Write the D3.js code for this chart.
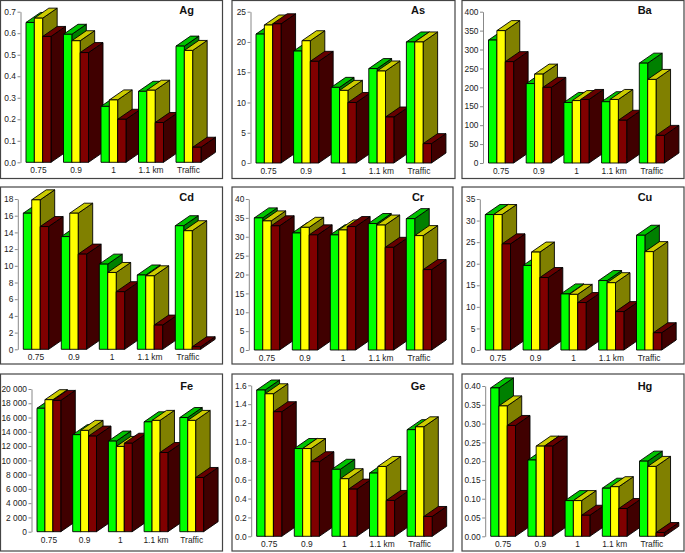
<!DOCTYPE html>
<html>
<head>
<meta charset="utf-8">
<script src="https://cdn.jsdelivr.net/npm/d3@7"></script>
<style>
  body { margin: 0; background: #fff; }
  svg { display: block; }
  text { font-family: "Liberation Sans", Arial, sans-serif; fill: #222; }
  .axis text { font-size: 8.4px; }
  .axis-y path, .axis-y line { stroke: #888; }
  .axis-x path { display: none; }
  .title { font-size: 11px; font-weight: bold; fill: #111; text-anchor: middle; }
</style>
</head>
<body>
<svg width="685" height="553"></svg>
<script>
var categories = ["0.75", "0.9", "1", "1.1 km", "Traffic"];
var series = ["green", "yellow", "red"];

// values per category: green, yellow, red
var Ag = [[0.65, 0.67, 0.585], [0.595, 0.565, 0.51], [0.26, 0.29, 0.20], [0.33, 0.335, 0.185], [0.54, 0.52, 0.07]];
var As = [[21.3, 22.8, 23], [18.5, 20.2, 16.8], [12.5, 12, 10], [15.6, 15.2, 7.6], [20, 20, 3.2]];
var Ba = [[325, 350, 268], [210, 235, 200], [160, 165, 168], [162, 168, 113], [264, 221, 73]];
var Cd = [[16.3, 17.9, 14.7], [13.5, 16.3, 11.4], [10.2, 9.2, 6.9], [8.9, 8.8, 2.9], [14.8, 14.2, 0.3]];
var Cr = [[35, 34.2, 32.9], [31, 32.5, 30.5], [30.5, 31.8, 32.7], [33.5, 33.1, 27.2], [34.8, 30.3, 21.3]];
var Cu = [[31.4, 31.4, 24.6], [19.6, 22.7, 16.8], [13, 12.9, 11], [16.1, 15.6, 8.9], [26.6, 22.8, 4]];
var Fe = [[17300, 18500, 18400], [13600, 14200, 13400], [12700, 11950, 12400], [15400, 15600, 11100], [16000, 15600, 7600]];
var Ge = [[1.55, 1.51, 1.32], [0.93, 0.93, 0.79], [0.71, 0.61, 0.5], [0.67, 0.74, 0.38], [1.13, 1.16, 0.21]];
var Hg = [[0.395, 0.347, 0.295], [0.203, 0.24, 0.24], [0.095, 0.095, 0.056], [0.128, 0.132, 0.074], [0.2, 0.186, 0.01]];

var AgTicks = ["0.0", "0.1", "0.2", "0.3", "0.4", "0.5", "0.6", "0.7"];
var AsTicks = ["0", "5", "10", "15", "20", "25"];
var BaTicks = ["0", "50", "100", "150", "200", "250", "300", "350", "400"];
var CdTicks = ["0", "2", "4", "6", "8", "10", "12", "14", "16", "18"];
var CrTicks = ["0", "5", "10", "15", "20", "25", "30", "35", "40"];
var CuTicks = ["0", "5", "10", "15", "20", "25", "30", "35"];
var FeTicks = ["0", "2 000", "4 000", "6 000", "8 000", "10 000", "12 000", "14 000", "16 000", "18 000", "20 000"];
var GeTicks = ["0.0", "0.2", "0.4", "0.6", "0.8", "1.0", "1.2", "1.4", "1.6"];
var HgTicks = ["0.00", "0.05", "0.10", "0.15", "0.20", "0.25", "0.30", "0.35", "0.40"];

// front, top and side colour of each series
var faces = {
  green: ["#00ff00", "#00c400", "#008000"],
  yellow: ["#ffff00", "#cccc00", "#808000"],
  red: ["#800000", "#660000", "#400000"]
};

var depthX = 14.5, depthY = 10;

var panels = [
  {name: "Ag", values: Ag, ticks: AgTicks, frame: [0.5, 0.5, 222, 178], left: 26, step: 37.5, y0: 162.3, y1: 11.7, titleX: 186.7, titleY: 10},
  {name: "As", values: As, ticks: AsTicks, frame: [232, 0.5, 223, 178], left: 256, step: 37.6, y0: 163, y1: 11.7, titleX: 418, titleY: 10},
  {name: "Ba", values: Ba, ticks: BaTicks, frame: [462, 0.5, 222, 178], left: 488.5, step: 37.7, y0: 163, y1: 11.7, titleX: 644.7, titleY: 10},
  {name: "Cd", values: Cd, ticks: CdTicks, frame: [0.5, 187, 222, 177], left: 23.3, step: 38, y0: 349.3, y1: 199, titleX: 186.7, titleY: 197},
  {name: "Cr", values: Cr, ticks: CrTicks, frame: [232, 187, 221, 177], left: 254.3, step: 38, y0: 350, y1: 199, titleX: 418, titleY: 197},
  {name: "Cu", values: Cu, ticks: CuTicks, frame: [462, 187, 222, 177], left: 485.3, step: 37.8, y0: 350, y1: 199, titleX: 645, titleY: 197},
  {name: "Fe", values: Fe, ticks: FeTicks, frame: [0.5, 374, 222, 177], left: 37, step: 35.7, y0: 531.7, y1: 389, titleX: 186.7, titleY: 386},
  {name: "Ge", values: Ge, ticks: GeTicks, frame: [232, 374, 221, 177], left: 256.7, step: 37.6, y0: 536.3, y1: 385.3, titleX: 418, titleY: 386},
  {name: "Hg", values: Hg, ticks: HgTicks, frame: [462, 374, 222, 177], left: 490.7, step: 37.2, y0: 536.3, y1: 386, titleX: 645, titleY: 386}
];

var svg = d3.select("svg");

panels.forEach(function (p) {
  var g = svg.append("g");

  g.append("rect")
    .attr("x", p.frame[0]).attr("y", p.frame[1])
    .attr("width", p.frame[2]).attr("height", p.frame[3])
    .style("fill", "white").style("stroke", "#444").style("stroke-width", 1.2);

  var tickNums = p.ticks.map(function (t) { return +t.replace(" ", ""); });

  var y = d3.scaleLinear()
    .domain([0, tickNums[tickNums.length - 1]])
    .range([p.y0, p.y1]);

  // groups are 2/3 of a step wide
  var x = d3.scaleBand()
    .domain(categories)
    .range([p.left, p.left + p.step * 4 + p.step * 2 / 3])
    .paddingInner(1 / 3)
    .paddingOuter(0);

  var xBar = d3.scaleBand().domain(series).range([0, x.bandwidth()]);

  var yAxis = d3.axisLeft(y)
    .tickValues(tickNums)
    .tickSize(3)
    .tickSizeOuter(0)
    .tickPadding(1.5)
    .tickFormat(function (d, i) { return p.ticks[i]; });

  g.append("g")
    .attr("class", "axis axis-y")
    .attr("transform", "translate(" + (p.left - 5.5) + ",0)")
    .call(yAxis);

  var xAxis = d3.axisBottom(x).tickSize(0).tickSizeOuter(0).tickPadding(5);

  g.append("g")
    .attr("class", "axis axis-x")
    .attr("transform", "translate(0," + p.y0 + ")")
    .call(xAxis);

  // painter's order: left group first, left bar first
  categories.forEach(function (c, i) {
    series.forEach(function (s, j) {
      var x0 = x(c) + xBar(s),
          x1 = x0 + xBar.bandwidth(),
          yTop = y(p.values[i][j]),
          colors = faces[s];

      var bar = g.append("g")
        .style("stroke", "#000")
        .style("stroke-width", 0.9)
        .style("stroke-linejoin", "round");

      bar.append("polygon")
        .attr("points", [[x1, yTop], [x1 + depthX, yTop - depthY], [x1 + depthX, p.y0 - depthY], [x1, p.y0]].join(" "))
        .style("fill", colors[2]);

      bar.append("polygon")
        .attr("points", [[x0, yTop], [x0 + depthX, yTop - depthY], [x1 + depthX, yTop - depthY], [x1, yTop]].join(" "))
        .style("fill", colors[1]);

      bar.append("rect")
        .attr("x", x0)
        .attr("y", yTop)
        .attr("width", x1 - x0)
        .attr("height", p.y0 - yTop)
        .style("fill", colors[0]);
    });
  });

  g.append("text")
    .attr("class", "title")
    .attr("x", p.titleX)
    .attr("y", p.titleY)
    .attr("dy", "0.35em")
    .text(p.name);
});
</script>
</body>
</html>
